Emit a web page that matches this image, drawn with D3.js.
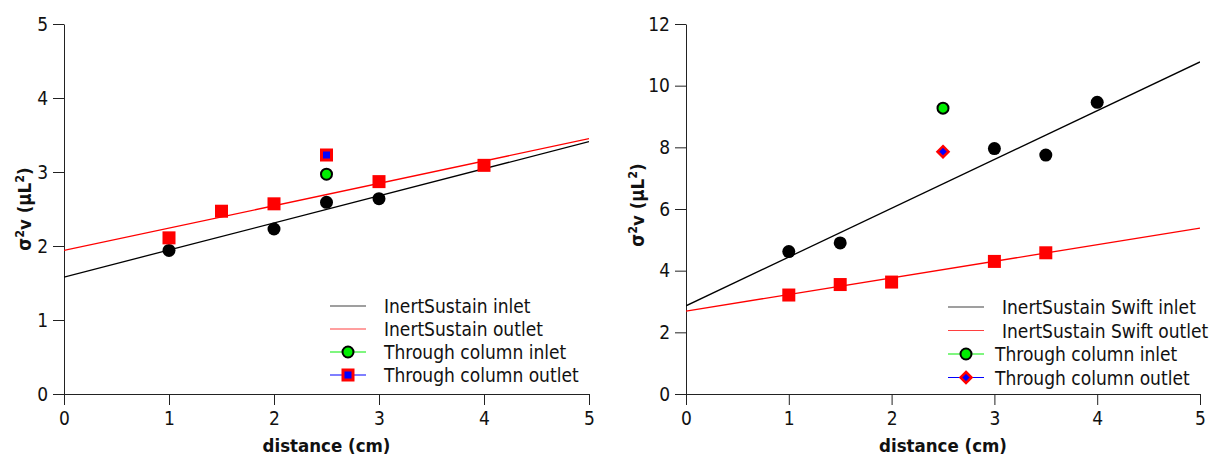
<!DOCTYPE html>
<html>
<head>
<meta charset="utf-8">
<script src="https://cdn.jsdelivr.net/npm/d3@7"></script>
<style>
  body { margin: 0; background: #fff; }
  svg { display: block; }
  text { font-family: "DejaVu Sans Condensed", "DejaVu Sans", sans-serif; font-stretch: condensed; fill: #111; }
</style>
</head>
<body>
<svg id="chart"></svg>
<script>
// ---- data: left panel (InertSustain)
const leftInletX = [1, 2, 2.5, 3];
const leftInletY = [1.94, 2.23, 2.59, 2.64];
const leftOutletX = [1, 1.5, 2, 3, 4];
const leftOutletY = [2.11, 2.47, 2.57, 2.87, 3.09];
const leftColInlet = [[2.5, 2.97]];
const leftColOutlet = [[2.5, 3.23]];
const leftFitInlet = [[0, 1.58], [5, 3.41]];
const leftFitOutlet = [[0, 1.94], [5, 3.45]];
const leftLegend = ["InertSustain inlet", "InertSustain outlet", "Through column inlet", "Through column outlet"];
const leftYTicks = [0, 1, 2, 3, 4, 5];

// ---- data: right panel (InertSustain Swift)
const rightInletX = [1, 1.5, 3, 3.5, 4];
const rightInletY = [4.62, 4.9, 7.96, 7.75, 9.46];
const rightOutletX = [1, 1.5, 2, 3, 3.5];
const rightOutletY = [3.21, 3.55, 3.63, 4.3, 4.58];
const rightColInlet = [[2.5, 9.27]];
const rightColOutlet = [[2.5, 7.86]];
const rightFitInlet = [[0, 2.86], [5, 10.77]];
const rightFitOutlet = [[0, 2.69], [5, 5.38]];
const rightLegend = ["InertSustain Swift inlet", "InertSustain Swift outlet", "Through column inlet", "Through column outlet"];
const rightYTicks = [0, 2, 4, 6, 8, 10, 12];

const xTicks = [0, 1, 2, 3, 4, 5];

const svg = d3.select("#chart").attr("width", 1210).attr("height", 456);

function panel(cfg) {
  const vis = {};
  vis.x = d3.scaleLinear().domain([0, 5]).range([cfg.left, cfg.right]);
  vis.y = d3.scaleLinear().domain([0, cfg.yMax]).range([394, 24]);
  const g = svg.append("g");

  // axes
  g.append("g")
    .attr("transform", `translate(0,${vis.y(0)})`)
    .call(d3.axisBottom(vis.x).tickValues(xTicks).tickSize(11).tickSizeOuter(0).tickPadding(7).tickFormat(d3.format("d")))
    .call(a => a.selectAll("text").style("font-size", "19px").attr("fill", "#111"))
    .call(a => a.selectAll("path,line").attr("stroke", "#222"));
  g.append("g")
    .attr("transform", `translate(${vis.x(0)},0)`)
    .call(d3.axisLeft(vis.y).tickValues(cfg.yTicks).tickSize(11).tickSizeOuter(0).tickPadding(5).tickFormat(d3.format("d")))
    .call(a => a.selectAll("text").style("font-size", "19px").attr("fill", "#111"))
    .call(a => a.selectAll("path,line").attr("stroke", "#222"));

  // axis titles
  g.append("text")
    .attr("x", (cfg.left + cfg.right) / 2).attr("y", 452)
    .attr("text-anchor", "middle")
    .style("font-size", "18.5px").style("font-weight", "bold")
    .text("distance (cm)");
  const yl = g.append("text")
    .attr("transform", `translate(${cfg.yLabelX},${cfg.yLabelY}) rotate(-90)`)
    .attr("text-anchor", "middle")
    .style("font-size", "18.5px").style("font-weight", "bold");
  yl.append("tspan").text("σ");
  yl.append("tspan").attr("dy", -7).style("font-size", "12.5px").text("2");
  yl.append("tspan").attr("dy", 7).text("v (μL");
  yl.append("tspan").attr("dy", -7).style("font-size", "12.5px").text("2");
  yl.append("tspan").attr("dy", 7).text(")");

  // clip for fit lines
  const clipId = "clip" + cfg.id;
  svg.append("clipPath").attr("id", clipId).append("rect")
    .attr("x", vis.x(0)).attr("y", vis.y(cfg.yMax)).attr("width", vis.x(5) - vis.x(0)).attr("height", vis.y(0) - vis.y(cfg.yMax));

  const line = d3.line().x(d => vis.x(d[0])).y(d => vis.y(d[1]));
  g.append("path").datum(cfg.fitInlet).attr("d", line).attr("fill", "none").attr("stroke", "#000").attr("stroke-width", 1.3).attr("clip-path", `url(#${clipId})`);
  g.append("path").datum(cfg.fitOutlet).attr("d", line).attr("fill", "none").attr("stroke", "#ff0000").attr("stroke-width", 1.3).attr("clip-path", `url(#${clipId})`);

  // inlet black circles
  g.selectAll(".inlet").data(d3.zip(cfg.inletX, cfg.inletY)).join("circle")
    .attr("cx", d => vis.x(d[0])).attr("cy", d => vis.y(d[1])).attr("r", 6.5).attr("fill", "#000");
  // outlet red squares
  g.selectAll(".outlet").data(d3.zip(cfg.outletX, cfg.outletY)).join("rect")
    .attr("x", d => vis.x(d[0]) - 6.5).attr("y", d => vis.y(d[1]) - 6.5).attr("width", 13).attr("height", 13).attr("fill", "#ff0000");
  // through column inlet
  g.selectAll(".colin").data(cfg.colInlet).join("circle")
    .attr("cx", d => vis.x(d[0])).attr("cy", d => vis.y(d[1])).attr("r", 5.5)
    .attr("fill", "#00ee00").attr("stroke", "#000").attr("stroke-width", 2);
  // through column outlet
  g.selectAll(".colout").data(cfg.colOutlet).join("path")
    .attr("transform", d => `translate(${vis.x(d[0])},${vis.y(d[1])})`)
    .attr("d", cfg.diamond ? "M0,-5.5L5.5,0L0,5.5L-5.5,0Z" : "M-5,-5H5V5H-5Z")
    .attr("fill", "#0000ff").attr("stroke", "#ff0000").attr("stroke-width", cfg.diamond ? 2.5 : 3);

  // legend
  const lg = g.append("g");
  cfg.legend.forEach((t, i) => {
    const yy = cfg.legY + i * cfg.legStep;
    const col = ["#000", "#ff0000", "#00ee00", "#0000ff"][i];
    lg.append("line").attr("x1", cfg.legX).attr("x2", cfg.legX + 36).attr("y1", yy).attr("y2", yy)
      .attr("stroke", col).attr("stroke-width", 1.2).attr("opacity", i < 2 ? 0.75 : 1);
    const cx = cfg.legX + 18;
    if (i === 2) {
      lg.append("circle").attr("cx", cx).attr("cy", yy).attr("r", 5.5).attr("fill", "#00ee00").attr("stroke", "#000").attr("stroke-width", 2);
    } else if (i === 3) {
      lg.append("path").attr("transform", `translate(${cx},${yy})`)
        .attr("d", cfg.diamond ? "M0,-5.5L5.5,0L0,5.5L-5.5,0Z" : "M-5,-5H5V5H-5Z")
        .attr("fill", "#0000ff").attr("stroke", "#ff0000").attr("stroke-width", cfg.diamond ? 2.5 : 3);
    }
    lg.append("text").attr("x", cfg.legX + cfg.textOff[i]).attr("y", yy + 7)
      .style("font-size", "19px").text(t);
  });
  return vis;
}

panel({
  id: "L", left: 64, right: 589, yMax: 5, yTicks: leftYTicks, yLabelX: 31, yLabelY: 209,
  inletX: leftInletX, inletY: leftInletY, outletX: leftOutletX, outletY: leftOutletY,
  colInlet: leftColInlet, colOutlet: leftColOutlet, fitInlet: leftFitInlet, fitOutlet: leftFitOutlet,
  legend: leftLegend, legX: 330, legY: 306, legStep: 23, textOff: [54, 54, 54, 54], diamond: false
});
panel({
  id: "R", left: 686, right: 1200, yMax: 12, yTicks: rightYTicks, yLabelX: 644, yLabelY: 205,
  inletX: rightInletX, inletY: rightInletY, outletX: rightOutletX, outletY: rightOutletY,
  colInlet: rightColInlet, colOutlet: rightColOutlet, fitInlet: rightFitInlet, fitOutlet: rightFitOutlet,
  legend: rightLegend, legX: 948, legY: 307, legStep: 23.5, textOff: [54, 54, 47, 47], diamond: true
});
</script>
</body>
</html>
